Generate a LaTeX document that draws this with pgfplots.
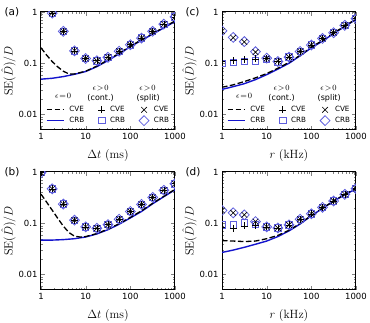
\documentclass[border=0pt]{standalone}
\usepackage[no-math]{fontspec}
\setmainfont{DejaVu Sans}
\usepackage{pgfplots}
\pgfplotsset{compat=1.18}
\usepackage{pgfplotstable}

\definecolor{crbline}{RGB}{20,20,205}
\definecolor{crbmark}{RGB}{95,95,222}

% ---------------- panel (a): SE vs frame interval ----------------
\pgfplotstableread{
x     y
1     0.049
1.78  0.051
3.16  0.055
5.62  0.061
10    0.069
17.8  0.086
31.6  0.113
56.2  0.153
100   0.21
178   0.28
316   0.37
562   0.49
1000  0.65
}\acrb
\pgfplotstableread{
x     y
1     0.20
1.33  0.145
1.78  0.108
2.37  0.085
3.16  0.070
4.22  0.062
5.62  0.062
10    0.070
17.8  0.088
31.6  0.116
56.2  0.157
100   0.215
178   0.287
316   0.38
562   0.50
1000  0.67
}\acve
\pgfplotstableread{
x     pc     qc     ps     qs
1.78  0.95   0.95   0.95   0.95
3.16  0.42   0.42   0.42   0.42
5.62  0.175  0.175  0.175  0.175
10    0.124  0.124  0.124  0.124
17.8  0.112  0.112  0.112  0.112
31.6  0.131  0.131  0.131  0.131
56.2  0.172  0.172  0.172  0.172
100   0.23   0.23   0.23   0.23
178   0.31   0.31   0.31   0.31
316   0.42   0.42   0.42   0.42
562   0.58   0.58   0.58   0.58
1000  0.80   0.80   0.80   0.80
}\amarks

% ---------------- panel (b) ----------------
\pgfplotstableread{
x     y
1     0.047
1.78  0.047
3.16  0.048
5.62  0.050
10    0.054
17.8  0.062
31.6  0.075
56.2  0.096
100   0.127
178   0.17
316   0.24
562   0.33
1000  0.45
}\bcrb
\pgfplotstableread{
x     y
1     0.37
1.33  0.26
1.78  0.18
2.37  0.125
3.16  0.088
4.22  0.066
5.62  0.056
7.5   0.054
10    0.055
17.8  0.063
31.6  0.077
56.2  0.098
100   0.13
178   0.175
316   0.245
562   0.335
1000  0.46
}\bcve
\pgfplotstableread{
x     pc     qc     ps     qs
1     0.97   0.97   0.97   0.97
1.78  0.47   0.47   0.47   0.47
3.16  0.237  0.237  0.237  0.237
5.62  0.115  0.115  0.115  0.115
10    0.085  0.085  0.085  0.085
17.8  0.080  0.080  0.080  0.080
31.6  0.094  0.094  0.094  0.094
56.2  0.12   0.12   0.12   0.12
100   0.17   0.17   0.17   0.17
178   0.234  0.234  0.234  0.234
316   0.32   0.32   0.32   0.32
562   0.44   0.44   0.44   0.44
1000  0.59   0.59   0.59   0.59
}\bmarks

% ---------------- panel (c): SE vs acquisition rate ----------------
\pgfplotstableread{
x     y
1     0.031
1.78  0.035
3.16  0.040
5.62  0.048
10    0.060
17.8  0.077
31.6  0.100
56.2  0.14
100   0.20
178   0.27
316   0.38
562   0.52
1000  0.72
}\ccrb
\pgfplotstableread{
x     y
1     0.034
1.78  0.038
3.16  0.044
5.62  0.052
10    0.063
17.8  0.080
31.6  0.104
56.2  0.143
100   0.205
178   0.28
316   0.39
562   0.53
1000  0.73
}\ccve
\pgfplotstableread{
x     pc     qc     ps     qs
1     0.108  0.100  0.42   0.43
1.78  0.112  0.103  0.315  0.32
3.16  0.118  0.108  0.26   0.265
5.62  0.122  0.112  0.165  0.168
10    0.124  0.118  0.124  0.126
17.8  0.110  0.106  0.110  0.108
31.6  0.132  0.132  0.132  0.132
56.2  0.17   0.17   0.17   0.17
100   0.227  0.227  0.227  0.227
178   0.305  0.305  0.305  0.305
316   0.395  0.395  0.395  0.395
562   0.55   0.55   0.55   0.55
1000  0.74   0.74   0.74   0.74
}\cmarks

% ---------------- panel (d) ----------------
\pgfplotstableread{
x     y
1     0.027
1.78  0.030
3.16  0.034
5.62  0.039
10    0.045
17.8  0.055
31.6  0.071
56.2  0.097
100   0.14
178   0.195
316   0.27
562   0.36
1000  0.47
}\dcrb
\pgfplotstableread{
x     y
1     0.046
1.78  0.045
3.16  0.044
5.62  0.045
10    0.050
17.8  0.058
31.6  0.073
56.2  0.099
100   0.142
178   0.197
316   0.272
562   0.365
1000  0.48
}\dcve
\pgfplotstableread{
x     pc     qc     ps     qs
1     0.085  0.093  0.178  0.178
1.78  0.080  0.093  0.160  0.160
3.16  0.089  0.102  0.146  0.146
5.62  0.092  0.095  0.108  0.108
10    0.085  0.085  0.085  0.085
17.8  0.081  0.081  0.081  0.081
31.6  0.093  0.093  0.093  0.093
56.2  0.12   0.12   0.12   0.12
100   0.153  0.153  0.153  0.153
178   0.205  0.205  0.205  0.205
316   0.272  0.272  0.272  0.272
562   0.367  0.367  0.367  0.367
1000  0.475  0.475  0.475  0.475
}\dmarks

% settings shared by all four panels
\pgfplotsset{
  every axis/.append style={
    scale only axis, width=134pt, height=118pt,
    xmin=1, xmax=1000, ymin=0.005, ymax=1,
    xtick={1,10,100,1000}, xticklabels={1,10,100,1000},
    ytick={0.01,0.1,1}, yticklabels={0.01,0.1,1},
    minor xtick={2,3,4,5,6,7,8,9,20,30,40,50,60,70,80,90,200,300,400,500,600,700,800,900},
    minor ytick={0.006,0.007,0.008,0.009,0.02,0.03,0.04,0.05,0.06,0.07,0.08,0.09,0.2,0.3,0.4,0.5,0.6,0.7,0.8,0.9},
    tick align=inside,
    major tick length=4pt, minor tick length=2.2pt,
    axis line style={line width=1pt},
    tick label style={font=\fontsize{8.5}{10}\selectfont},
    label style={font=\fontsize{11.5}{13}\selectfont},
    ylabel={$\mathrm{SE}(\hat{D})/D$},
    ylabel shift=-4pt,
    xlabel shift=3pt,
    clip marker paths=true,
  },
  crb/.style={crbline, line width=1.4pt},
  cve/.style={black, line width=1.3pt, dash pattern=on 5.5pt off 2.5pt},
  qcont/.style={only marks, crbmark, mark=square, mark size=3.2pt, mark options={line width=0.8pt}},
  qsplit/.style={only marks, crbmark, mark=square, mark size=3.5pt, mark options={rotate=45, line width=0.8pt}},
  pcont/.style={only marks, black, mark=+, mark size=3.4pt, mark options={line width=0.6pt}},
  psplit/.style={only marks, black, mark=x, mark size=4pt, mark options={line width=0.6pt}},
}

\newcommand{\keyheads}{%
  \node[font=\fontsize{8}{9}\selectfont] at (rel axis cs:0.165,0.29) {$\epsilon\!=\!0$};
  \node[font=\fontsize{8}{9}\selectfont] at (rel axis cs:0.445,0.355) {$\epsilon\!>\!0$};
  \node[font=\fontsize{8}{9}\selectfont] at (rel axis cs:0.445,0.27) {(cont.)};
  \node[font=\fontsize{8}{9}\selectfont] at (rel axis cs:0.795,0.355) {$\epsilon\!>\!0$};
  \node[font=\fontsize{8}{9}\selectfont] at (rel axis cs:0.80,0.27) {(split)};
}

\newcommand{\keyimages}{%
  \addlegendimage{cve}
  \addlegendimage{pcont}
  \addlegendimage{psplit}
  \addlegendimage{crb}
  \addlegendimage{qcont}
  \addlegendimage{qsplit}
  \legend{CVE,CVE,CVE,CRB,CRB,CRB}
}

% the four estimator curves and marker sets of one panel
\newcommand{\panelseries}[3]{%
  \addplot[crb, forget plot] table[x=x, y=y] {#1};
  \addplot[cve, forget plot] table[x=x, y=y] {#2};
  \addplot[qcont, forget plot] table[x=x, y=qc] {#3};
  \addplot[qsplit, forget plot] table[x=x, y=qs] {#3};
  \addplot[pcont, forget plot] table[x=x, y=pc] {#3};
  \addplot[psplit, forget plot] table[x=x, y=ps] {#3};
}

\begin{document}
\begin{tikzpicture}
\useasboundingbox (0pt,0pt) rectangle (370pt,323pt);

% (a)
\begin{loglogaxis}[at={(41pt,193pt)}, anchor=south west,
    xlabel={$\Delta t\ (\mathrm{ms})$},
    legend columns=3, legend cell align=left,
    legend style={at={(rel axis cs:0.035,0.125)}, anchor=west, draw=none, fill=none,
      inner sep=0pt, font=\fontsize{7.2}{8}\selectfont,
      /tikz/every odd column/.append style={column sep=3pt},
      /tikz/every even column/.append style={column sep=12pt}}]
  \keyimages
  \panelseries{\acrb}{\acve}{\amarks}
  \keyheads
\end{loglogaxis}

% (c)
\begin{loglogaxis}[at={(222pt,193pt)}, anchor=south west,
    xlabel={$r\ (\mathrm{kHz})$},
    legend columns=3, legend cell align=left,
    legend style={at={(rel axis cs:0.035,0.125)}, anchor=west, draw=none, fill=none,
      inner sep=0pt, font=\fontsize{7.2}{8}\selectfont,
      /tikz/every odd column/.append style={column sep=3pt},
      /tikz/every even column/.append style={column sep=12pt}}]
  \keyimages
  \panelseries{\ccrb}{\ccve}{\cmarks}
  \keyheads
\end{loglogaxis}

% (b)
\begin{loglogaxis}[at={(41pt,33pt)}, anchor=south west,
    xlabel={$\Delta t\ (\mathrm{ms})$}]
  \panelseries{\bcrb}{\bcve}{\bmarks}
\end{loglogaxis}

% (d)
\begin{loglogaxis}[at={(222pt,33pt)}, anchor=south west,
    xlabel={$r\ (\mathrm{kHz})$}]
  \panelseries{\dcrb}{\dcve}{\dmarks}
\end{loglogaxis}

\node[anchor=west, font=\fontsize{10.5}{12}\selectfont] at (1pt,311pt) {(a)};
\node[anchor=west, font=\fontsize{10.5}{12}\selectfont] at (182pt,311pt) {(c)};
\node[anchor=west, font=\fontsize{10.5}{12}\selectfont] at (1pt,151pt) {(b)};
\node[anchor=west, font=\fontsize{10.5}{12}\selectfont] at (182pt,151pt) {(d)};
\end{tikzpicture}
\end{document}
